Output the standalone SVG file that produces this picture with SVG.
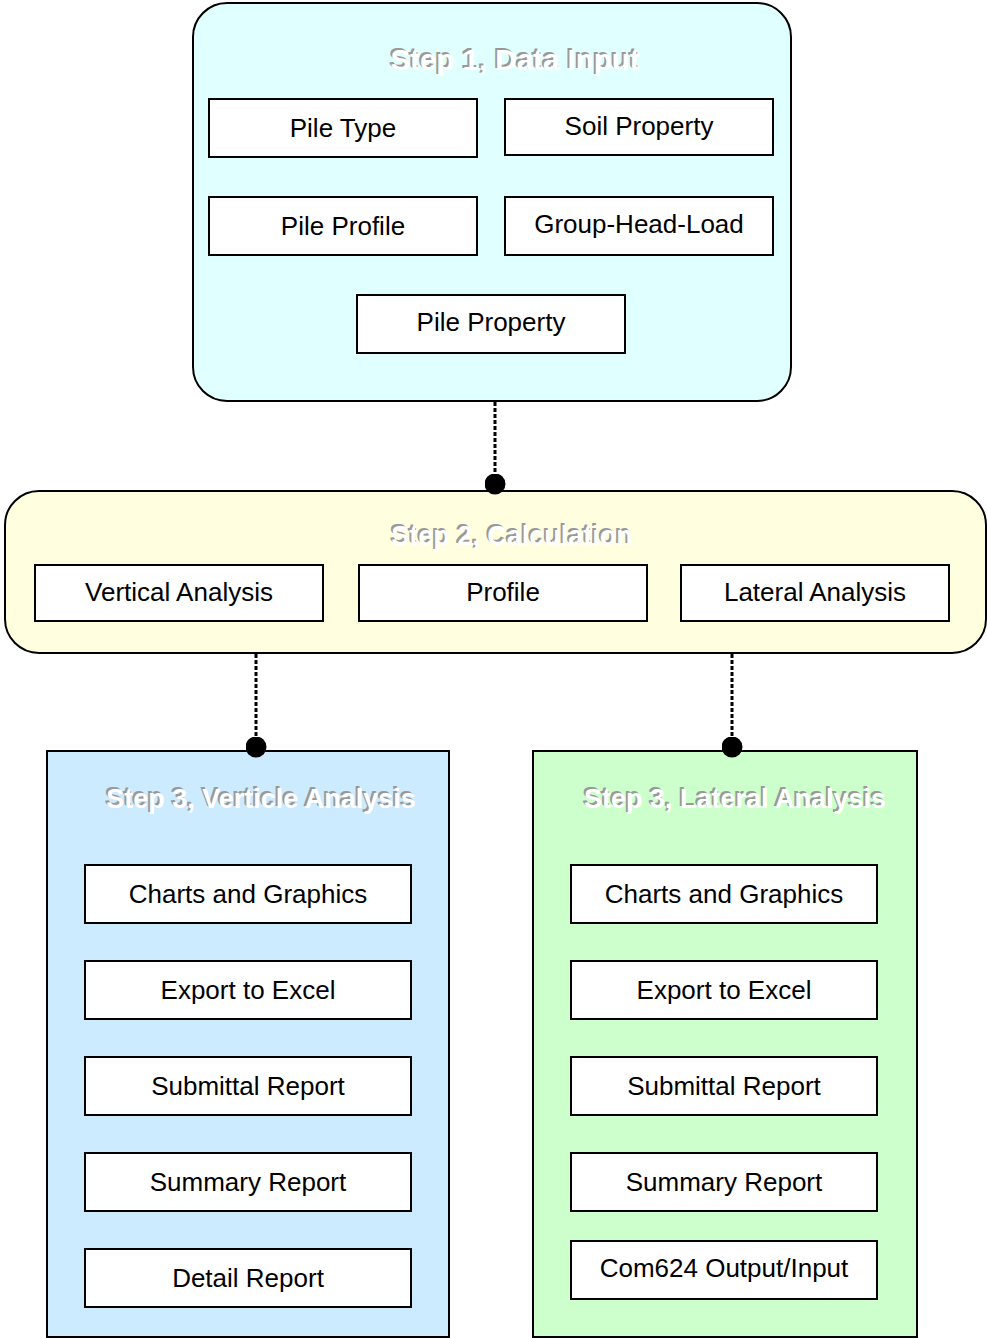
<svg xmlns="http://www.w3.org/2000/svg" width="987" height="1338" viewBox="0 0 987 1338">
<style>
.grp{stroke:#000;stroke-width:2}
.box{fill:#fff;stroke:#000;stroke-width:2}
.lbl{font-family:"Liberation Sans",Arial,sans-serif;font-size:26px;fill:#000;text-anchor:middle}
.ttl{font-family:"Liberation Sans",Arial,sans-serif;font-size:27px;font-weight:bold;text-anchor:middle}
.big{font-size:29.5px}
.sh{fill:#999}
.hi{fill:#fff}
.con{stroke:#000;stroke-width:3;stroke-dasharray:4 2;fill:none}
</style>
<defs>
<marker id="dot" viewBox="0 0 10 10" refX="5" refY="5" markerWidth="7" markerHeight="7" markerUnits="strokeWidth"><circle cx="5" cy="5" r="5" fill="#000"/></marker>
</defs>
<rect width="987" height="1338" fill="#fff"/>
<g id="step1">
<rect class="grp" x="193" y="3" width="598" height="398" rx="34" ry="34" fill="#E0FFFF"/>
<text class="ttl big sh" x="513" y="68">Step 1, Data Input</text>
<text class="ttl big hi" x="515" y="70">Step 1, Data Input</text>
</g>
<g id="pile-type"><rect class="box" x="209" y="99" width="268" height="58"/><text class="lbl" x="343" y="137">Pile Type</text></g>
<g id="soil-property"><rect class="box" x="505" y="99" width="268" height="56"/><text class="lbl" x="639" y="135">Soil Property</text></g>
<g id="pile-profile"><rect class="box" x="209" y="197" width="268" height="58"/><text class="lbl" x="343" y="235">Pile Profile</text></g>
<g id="group-head-load"><rect class="box" x="505" y="197" width="268" height="58"/><text class="lbl" x="639" y="233">Group-Head-Load</text></g>
<g id="pile-property"><rect class="box" x="357" y="295" width="268" height="58"/><text class="lbl" x="491" y="331">Pile Property</text></g>
<g id="step2">
<rect class="grp" x="5" y="491" width="981" height="162" rx="34" ry="34" fill="#FFFFE0"/>
<text class="ttl sh" x="510" y="543">Step 2, Calculation</text>
<text class="ttl hi" x="512" y="545">Step 2, Calculation</text>
</g>
<g id="vertical-analysis"><rect class="box" x="35" y="565" width="288" height="56"/><text class="lbl" x="179" y="601">Vertical Analysis</text></g>
<g id="profile"><rect class="box" x="359" y="565" width="288" height="56"/><text class="lbl" x="503" y="601">Profile</text></g>
<g id="lateral-analysis"><rect class="box" x="681" y="565" width="268" height="56"/><text class="lbl" x="815" y="601">Lateral Analysis</text></g>
<g id="step3-vertical">
<rect class="grp" x="47" y="751" width="402" height="586" fill="#CCEBFF"/>
<text class="ttl sh" x="259" y="806">Step 3, Verticle Analysis</text>
<text class="ttl hi" x="261" y="808">Step 3, Verticle Analysis</text>
</g>
<g id="v-charts"><rect class="box" x="85" y="865" width="326" height="58"/><text class="lbl" x="248" y="903">Charts and Graphics</text></g>
<g id="v-excel"><rect class="box" x="85" y="961" width="326" height="58"/><text class="lbl" x="248" y="999">Export to Excel</text></g>
<g id="v-submittal"><rect class="box" x="85" y="1057" width="326" height="58"/><text class="lbl" x="248" y="1095">Submittal Report</text></g>
<g id="v-summary"><rect class="box" x="85" y="1153" width="326" height="58"/><text class="lbl" x="248" y="1191">Summary Report</text></g>
<g id="v-detail"><rect class="box" x="85" y="1249" width="326" height="58"/><text class="lbl" x="248" y="1287">Detail Report</text></g>
<g id="step3-lateral">
<rect class="grp" x="533" y="751" width="384" height="586" fill="#CCFFCC"/>
<text class="ttl sh" x="733" y="806">Step 3, Lateral Analysis</text>
<text class="ttl hi" x="735" y="808">Step 3, Lateral Analysis</text>
</g>
<g id="l-charts"><rect class="box" x="571" y="865" width="306" height="58"/><text class="lbl" x="724" y="903">Charts and Graphics</text></g>
<g id="l-excel"><rect class="box" x="571" y="961" width="306" height="58"/><text class="lbl" x="724" y="999">Export to Excel</text></g>
<g id="l-submittal"><rect class="box" x="571" y="1057" width="306" height="58"/><text class="lbl" x="724" y="1095">Submittal Report</text></g>
<g id="l-summary"><rect class="box" x="571" y="1153" width="306" height="58"/><text class="lbl" x="724" y="1191">Summary Report</text></g>
<g id="l-com624"><rect class="box" x="571" y="1241" width="306" height="58"/><text class="lbl" x="724" y="1277">Com624 Output/Input</text></g>
<g id="connectors">
<path class="con" d="M495 402 V484" marker-end="url(#dot)"/>
<path class="con" d="M256 654 V747" marker-end="url(#dot)"/>
<path class="con" d="M732 654 V747" marker-end="url(#dot)"/>
</g>
</svg>
